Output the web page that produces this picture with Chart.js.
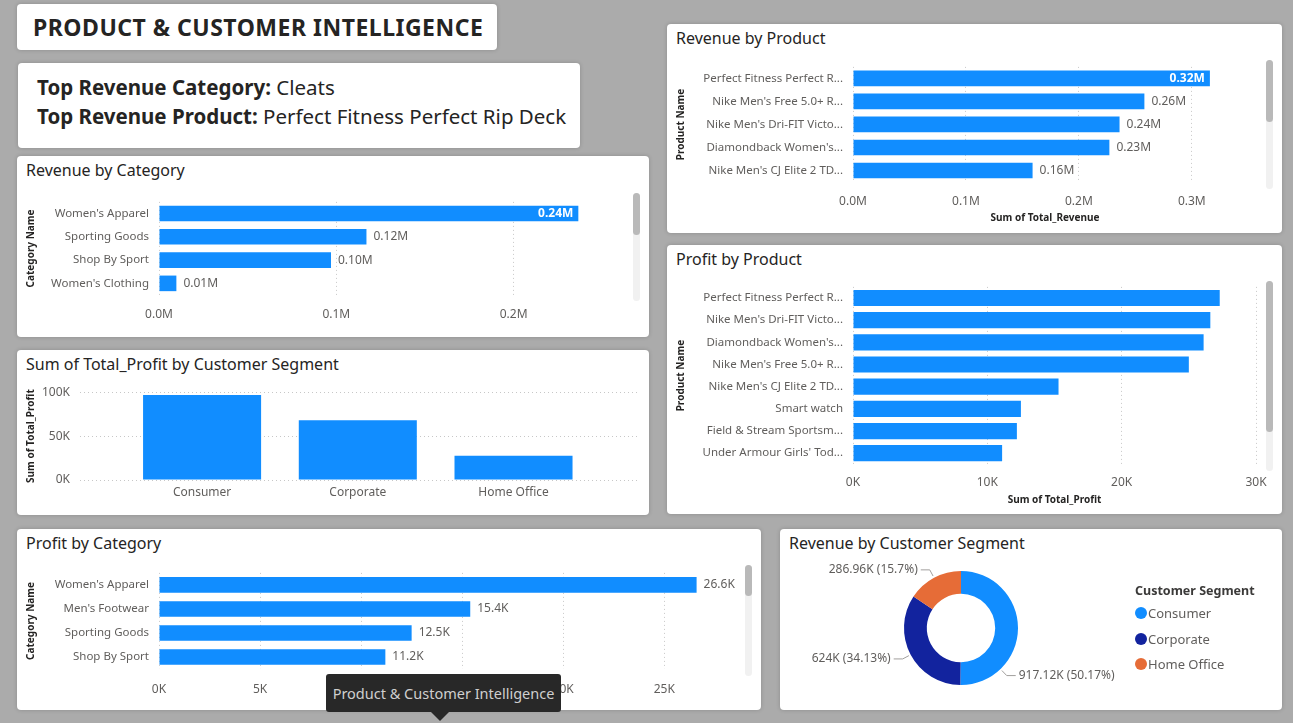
<!DOCTYPE html>
<html>
<head>
<meta charset="utf-8">
<title>Product & Customer Intelligence</title>
<script src="https://cdn.jsdelivr.net/npm/chart.js@4.4.1/dist/chart.umd.min.js"></script>
<style>
  body { margin: 0; width: 1293px; height: 723px; overflow: hidden; background: #ababab; font-family: 'Noto Sans', sans-serif; position: relative; }
  .panel { position: absolute; background: #fff; border-radius: 4px; box-shadow: 0 0 4px rgba(0,0,0,0.18); }
  .title { position: absolute; left: 9px; top: 3px; font-size: 16px; line-height: 22px; color: #252423; white-space: nowrap; }
  .chart { position: absolute; }
  .scroll { position: absolute; width: 7px; background: #f1f1f1; border-radius: 4px; }
  .thumb { position: absolute; left: 0; top: 0; width: 7px; background: #b9b9b9; border-radius: 4px; }
  #header { left: 17px; top: 4px; width: 480px; height: 46px; }
  #header div { position: absolute; left: 16px; top: 7px; font-size: 23px; font-weight: bold; color: #252423; white-space: nowrap; letter-spacing: 0.5px; }
  #info { left: 18px; top: 63px; width: 562px; height: 85px; }
  #info div { position: absolute; left: 19px; font-size: 20.5px; color: #252423; white-space: nowrap; line-height: 29px; }
  #legend { position: absolute; left: 1135px; top: 580px; color: #605e5c; font-size: 13px; }
  #legend .lt { font-size: 12.5px; font-weight: bold; color: #3b3a39; line-height: 22px; margin-bottom: 2px; }
  #legend .li { position: relative; height: 25.5px; line-height: 18px; padding-left: 13px; white-space: nowrap; }
  #legend .li span { position: absolute; left: 0; top: 3px; width: 12px; height: 12px; border-radius: 50%; }
  #tip { position: absolute; left: 326px; top: 674px; width: 235px; height: 38px; background: #282828; border-radius: 3px; color: #cfcfcf; font-size: 14.5px; line-height: 38px; text-align: center; white-space: nowrap; }
  #tip:after { content: ''; position: absolute; left: 105px; top: 38px; border-left: 9px solid transparent; border-right: 9px solid transparent; border-top: 9px solid #282828; }
</style>
</head>
<body>

<div class="panel" id="header"><div>PRODUCT &amp; CUSTOMER INTELLIGENCE</div></div>
<div class="panel" id="info">
  <div style="top:10px"><b>Top Revenue Category:</b> Cleats</div>
  <div style="top:39px"><b>Top Revenue Product:</b> Perfect Fitness Perfect Rip Deck</div>
</div>

<div class="panel" style="left:17px;top:156px;width:632px;height:181px"><div class="title">Revenue by Category</div></div>
<div class="panel" style="left:17px;top:350px;width:632px;height:165px"><div class="title">Sum of Total_Profit by Customer Segment</div></div>
<div class="panel" style="left:17px;top:529px;width:744px;height:181px"><div class="title">Profit by Category</div></div>
<div class="panel" style="left:667px;top:24px;width:615px;height:209px"><div class="title">Revenue by Product</div></div>
<div class="panel" style="left:667px;top:245px;width:615px;height:269px"><div class="title">Profit by Product</div></div>
<div class="panel" style="left:780px;top:529px;width:502px;height:181px"><div class="title">Revenue by Customer Segment</div></div>

<div class="chart" style="left:17px;top:185px;width:615px;height:145px"><canvas id="revCategory"></canvas></div>
<div class="chart" style="left:17px;top:375px;width:625px;height:135px"><canvas id="segProfit"></canvas></div>
<div class="chart" style="left:17px;top:556px;width:728px;height:150px"><canvas id="profitCategory"></canvas></div>
<div class="chart" style="left:667px;top:50px;width:600px;height:178px"><canvas id="revProduct"></canvas></div>
<div class="chart" style="left:667px;top:270px;width:600px;height:240px"><canvas id="profitProduct"></canvas></div>
<div class="chart" style="left:780px;top:555px;width:502px;height:150px"><canvas id="segRevenue"></canvas></div>
<div id="legend"></div>

<div class="scroll" style="left:633px;top:193px;height:108px"><div class="thumb" style="height:42px"></div></div>
<div class="scroll" style="left:1266px;top:60px;height:129px"><div class="thumb" style="height:62px"></div></div>
<div class="scroll" style="left:1266px;top:281px;height:190px"><div class="thumb" style="height:151px"></div></div>
<div class="scroll" style="left:745px;top:565px;height:111px"><div class="thumb" style="height:31px"></div></div>

<div id="tip">Product &amp; Customer Intelligence</div>

<script>
const revenueCategoryNames = ["Women's Apparel", 'Sporting Goods', 'Shop By Sport', "Women's Clothing"];
const revenueCategoryValues = [236500, 117000, 97000, 9800];

const revenueProductNames = ['Perfect Fitness Perfect R...', "Nike Men's Free 5.0+ R...", "Nike Men's Dri-FIT Victo...", "Diamondback Women's...", "Nike Men's CJ Elite 2 TD..."];
const revenueProductValues = [316000, 258000, 236000, 227000, 159000];

const profitProductNames = ['Perfect Fitness Perfect R...', "Nike Men's Dri-FIT Victo...", "Diamondback Women's...", "Nike Men's Free 5.0+ R...", "Nike Men's CJ Elite 2 TD...", 'Smart watch', 'Field & Stream Sportsm...', "Under Armour Girls' Tod..."];
const profitProductValues = [27300, 26600, 26100, 25000, 15300, 12500, 12200, 11100];

const profitCategoryNames = ["Women's Apparel", "Men's Footwear", 'Sporting Goods', 'Shop By Sport'];
const profitCategoryValues = [26600, 15400, 12500, 11200];

const segmentNames = ['Consumer', 'Corporate', 'Home Office'];
const segmentProfit = [96800, 68000, 27700];
const segmentRevenue = [917120, 624000, 286960];
const segmentColors = ['#118DFF', '#12239E', '#E66C37'];

const revenueTicks = [0, 100000, 200000, 300000];
const profitProductTicks = [0, 10000, 20000, 30000];
const profitCategoryTicks = [0, 5000, 10000, 15000, 20000, 25000];
const segmentProfitTicks = [0, 50000, 100000];

const BLUE = '#118DFF';
const TICK = '#605e5c';
const FONT = '"Noto Sans", sans-serif';

Chart.defaults.font.family = FONT;
Chart.defaults.animation = false;

const trim = (n, d) => parseFloat(n.toFixed(d)).toString();
const fmtM = v => (v / 1e6).toFixed(2) + 'M';
const fmtK = v => (v / 1e3).toFixed(1) + 'K';
const tickM = v => (v / 1e6).toFixed(1) + 'M';
const tickK = v => Math.round(v / 1e3) + 'K';
const useTicks = (list, max) => s => { s.ticks = list.filter(v => v <= max).map(v => ({ value: v })); };

// value labels at the end of each bar (inside in white when there is no room)
Chart.register({
  id: 'barLabels',
  afterDatasetsDraw(chart, args, opts) {
    if (!opts.format) return;
    const ctx = chart.ctx;
    const values = chart.data.datasets[0].data;
    ctx.save();
    ctx.textBaseline = 'middle';
    chart.getDatasetMeta(0).data.forEach((bar, i) => {
      const text = opts.format(values[i]);
      ctx.font = '12px ' + FONT;
      const w = ctx.measureText(text).width;
      if (bar.x + 7 + w > chart.chartArea.right) {
        ctx.font = 'bold 12px ' + FONT;
        ctx.fillStyle = '#ffffff';
        ctx.textAlign = 'right';
        ctx.fillText(text, bar.x - 5, bar.y);
      } else {
        ctx.fillStyle = TICK;
        ctx.textAlign = 'left';
        ctx.fillText(text, bar.x + 7, bar.y);
      }
    });
    ctx.restore();
  }
});

const donutLabels = {
  id: 'donutLabels',
  afterDatasetsDraw(chart, args, opts) {
    const ctx = chart.ctx;
    const values = chart.data.datasets[0].data;
    const total = values.reduce((a, b) => a + b, 0);
    ctx.save();
    ctx.font = '12px ' + FONT;
    ctx.fillStyle = TICK;
    ctx.strokeStyle = '#a19f9d';
    ctx.lineWidth = 1;
    ctx.textBaseline = 'middle';
    chart.getDatasetMeta(0).data.forEach((arc, i) => {
      const p = arc.getProps(['x', 'y', 'startAngle', 'endAngle', 'outerRadius']);
      const text = trim(values[i] / 1e3, 2) + 'K (' + trim(values[i] / total * 100, 2) + '%)';
      const w = ctx.measureText(text).width;
      let a = (p.startAngle + p.endAngle) / 2;
      const endX = ang => p.x + Math.cos(ang) * (p.outerRadius + 9) + 12 + w;
      // slide the label down the slice until it clears the legend
      while (Math.cos(a) >= 0 && endX(a) > opts.maxX && a < p.endAngle) a += 0.02;
      const side = Math.cos(a) >= 0 ? 1 : -1;
      const x1 = p.x + Math.cos(a) * (p.outerRadius + 2), y1 = p.y + Math.sin(a) * (p.outerRadius + 2);
      const x2 = p.x + Math.cos(a) * (p.outerRadius + 9), y2 = p.y + Math.sin(a) * (p.outerRadius + 9);
      const x3 = x2 + side * 9;
      ctx.beginPath();
      ctx.moveTo(x1, y1); ctx.lineTo(x2, y2); ctx.lineTo(x3, y2);
      ctx.stroke();
      ctx.textAlign = side > 0 ? 'left' : 'right';
      ctx.fillText(text, x3 + side * 3, y2);
    });
    ctx.restore();
  }
};

const axisTitle = (text, pad) => ({ display: true, text: text, color: '#252423', font: { size: 10, weight: 'bold' }, padding: pad || { top: 4, bottom: 4 } });
const noLabelPadding = s => { s.paddingLeft = 0; s.paddingRight = 0; };

const createHBarChart = (id, names, values, cfg) => {
  const ctx = document.getElementById(id).getContext('2d');
  return new Chart(ctx, {
    type: 'bar',
    data: {
      labels: names,
      datasets: [{
        data: values,
        backgroundColor: BLUE,
        borderWidth: 0,
        categoryPercentage: 1,
        barPercentage: cfg.bar
      }]
    },
    options: {
      indexAxis: 'y',
      responsive: true,
      maintainAspectRatio: false,
      layout: { padding: { top: cfg.padTop, right: cfg.padRight, bottom: 0, left: 0 } },
      plugins: {
        legend: { display: false },
        tooltip: { enabled: false },
        barLabels: { format: cfg.labelFormat }
      },
      scales: {
        x: {
          min: 0,
          max: cfg.max,
          bounds: 'data',
          ticks: {
            color: TICK,
            font: { size: 12 },
            padding: cfg.tickPad,
            maxRotation: 0,
            callback: cfg.tickFormat
          },
          afterBuildTicks: useTicks(cfg.ticks, cfg.max),
          grid: { color: 'rgba(0,0,0,0.22)', drawTicks: false },
          border: { display: false, dash: [1, 3] },
          title: cfg.xTitle ? axisTitle(cfg.xTitle) : { display: false },
          afterFit: s => { s.height = cfg.xHeight; noLabelPadding(s); }
        },
        y: {
          ticks: { color: TICK, font: { size: 11.5 }, padding: 10 },
          grid: { display: false, drawTicks: false },
          border: { display: false },
          title: axisTitle(cfg.yTitle, { top: 8, bottom: 4 }),
          afterFit: s => { s.width = cfg.yWidth; }
        }
      }
    }
  });
};

createHBarChart('revCategory', revenueCategoryNames, revenueCategoryValues, {
  bar: 0.67, padTop: 14, padRight: 12, max: 260000, ticks: revenueTicks,
  tickFormat: tickM, labelFormat: fmtM, tickPad: 12, xHeight: 35,
  yTitle: 'Category Name', yWidth: 142
});

createHBarChart('revProduct', revenueProductNames, revenueProductValues, {
  bar: 0.68, padTop: 14.5, padRight: 30, max: 340000, ticks: revenueTicks,
  tickFormat: tickM, labelFormat: fmtM, tickPad: 12, xHeight: 46,
  xTitle: 'Sum of Total_Revenue', yTitle: 'Product Name', yWidth: 186
});

createHBarChart('profitProduct', profitProductNames, profitProductValues, {
  bar: 0.73, padTop: 15.8, padRight: 11, max: 30000, ticks: profitProductTicks,
  tickFormat: tickK, tickPad: 11, xHeight: 45.7,
  xTitle: 'Sum of Total_Profit', yTitle: 'Product Name', yWidth: 186
});

createHBarChart('profitCategory', profitCategoryNames, profitCategoryValues, {
  bar: 0.65, padTop: 15, padRight: 10, max: 28500, ticks: profitCategoryTicks,
  tickFormat: tickK, labelFormat: fmtK, tickPad: 13, xHeight: 37,
  yTitle: 'Category Name', yWidth: 142
});

// column chart on a linear index axis so the bars sit inside wider gridlines
new Chart(document.getElementById('segProfit').getContext('2d'), {
  type: 'bar',
  data: {
    datasets: [{
      data: segmentProfit.map((v, i) => ({ x: i, y: v })),
      backgroundColor: BLUE,
      borderWidth: 0,
      categoryPercentage: 1,
      barPercentage: 0.758
    }]
  },
  options: {
    responsive: true,
    maintainAspectRatio: false,
    layout: { padding: { top: 12, right: 5, bottom: 0, left: 0 } },
    plugins: { legend: { display: false }, tooltip: { enabled: false } },
    scales: {
      x: {
        type: 'linear',
        min: -0.784,
        max: 2.793,
        bounds: 'data',
        offset: false,
        ticks: {
          color: TICK,
          font: { size: 12 },
          padding: 5,
          callback: v => segmentNames[v]
        },
        afterBuildTicks: s => { s.ticks = segmentNames.map((n, i) => ({ value: i })); },
        grid: { display: false, drawTicks: false, offset: false },
        border: { display: false },
        afterFit: s => { s.height = 30; noLabelPadding(s); }
      },
      y: {
        min: 0,
        max: 100000,
        bounds: 'data',
        ticks: { color: TICK, font: { size: 12 }, padding: 10, callback: tickK },
        afterBuildTicks: useTicks(segmentProfitTicks, 100000),
        grid: { color: 'rgba(0,0,0,0.22)', drawTicks: false },
        border: { display: false, dash: [1, 3] },
        title: axisTitle('Sum of Total_Profit', { top: 8, bottom: 4 }),
        afterFit: s => { s.width = 63; }
      }
    }
  }
});

new Chart(document.getElementById('segRevenue').getContext('2d'), {
  type: 'doughnut',
  data: {
    labels: segmentNames,
    datasets: [{
      data: segmentRevenue,
      backgroundColor: segmentColors,
      borderWidth: 0,
      hoverOffset: 0
    }]
  },
  options: {
    responsive: true,
    maintainAspectRatio: false,
    cutout: '60%',
    layout: { padding: { top: 16, right: 264, bottom: 20, left: 124 } },
    plugins: {
      tooltip: { enabled: false },
      legend: { display: false },
      donutLabels: { maxX: 335 }
    }
  },
  plugins: [donutLabels]
});

// legend for the donut, built from the same segment arrays
const legendEl = document.getElementById('legend');
legendEl.innerHTML = '<div class="lt">Customer Segment</div>' +
  segmentNames.map((n, i) => '<div class="li"><span style="background:' + segmentColors[i] + '"></span>' + n + '</div>').join('');
</script>
</body>
</html>
